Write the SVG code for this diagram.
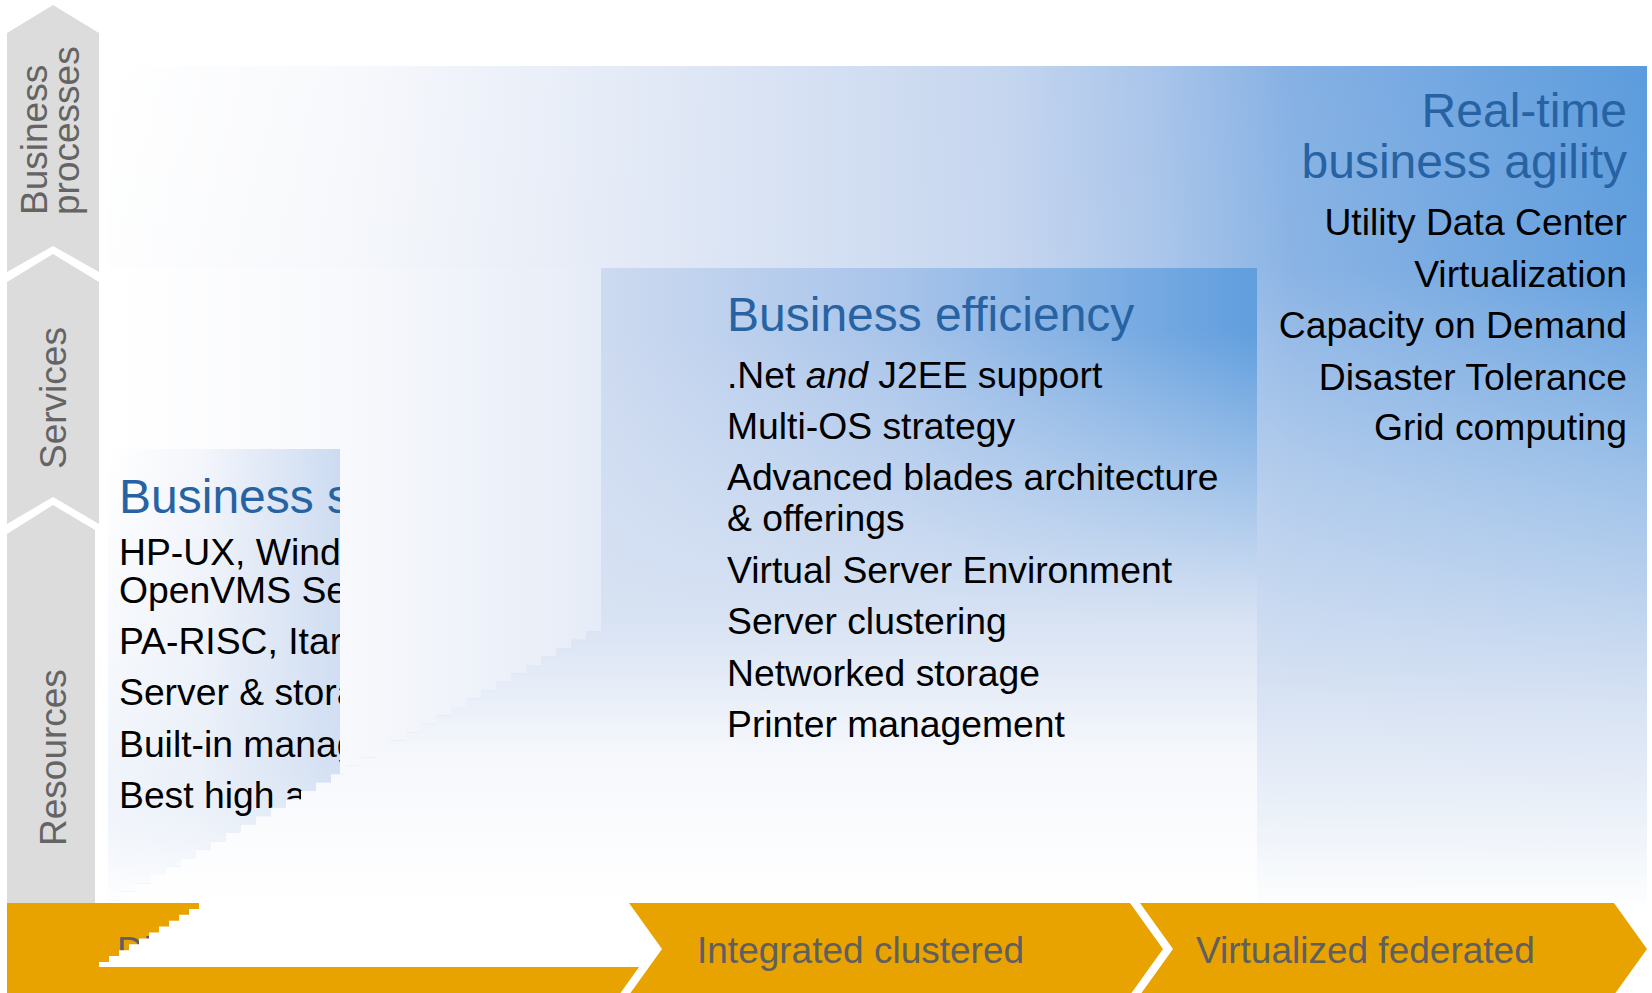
<svg xmlns="http://www.w3.org/2000/svg" width="1652" height="993" viewBox="0 0 1652 993">
<style>
.lbl{font-family:"Liberation Sans",Arial,sans-serif;font-size:37px;fill:#646464}
.chev{font-family:"Liberation Sans",Arial,sans-serif;font-size:37px;fill:#5F5F5F}
.ttl{font-family:"Liberation Sans",Arial,sans-serif;font-size:48px;fill:#2763A3}
.txt{font-family:"Liberation Sans",Arial,sans-serif;font-size:37.3px;fill:#000000}
.seg{fill:#DCDCDC}
.arrow{fill:#E9A300}
</style>
<defs>
<linearGradient id="gA" gradientUnits="userSpaceOnUse" x1="108" y1="0" x2="1647" y2="0">
<stop offset="0" stop-color="#FFFFFF"/>
<stop offset="0.15" stop-color="#F8F9FC"/>
<stop offset="0.32" stop-color="#E6ECF7"/>
<stop offset="0.58" stop-color="#C6D6EF"/>
<stop offset="0.68" stop-color="#A9C5EA"/>
<stop offset="0.77" stop-color="#86B1E4"/>
<stop offset="1" stop-color="#5C9CDD"/>
</linearGradient>
<linearGradient id="fA" gradientUnits="userSpaceOnUse" x1="0" y1="66" x2="0" y2="903">
<stop offset="0" stop-color="#D7E2F3" stop-opacity="0"/>
<stop offset="0.24" stop-color="#D7E2F3" stop-opacity="0.05"/>
<stop offset="0.5" stop-color="#D7E2F3" stop-opacity="0.55"/>
<stop offset="0.76" stop-color="#DCE5F4" stop-opacity="0.96"/>
<stop offset="1" stop-color="#FCFDFE" stop-opacity="1"/>
</linearGradient>
<linearGradient id="gB" gradientUnits="userSpaceOnUse" x1="601" y1="0" x2="1257" y2="0">
<stop offset="0" stop-color="#CDDAF0"/>
<stop offset="0.45" stop-color="#A8C4EA"/>
<stop offset="1" stop-color="#609EDE"/>
</linearGradient>
<linearGradient id="fB" gradientUnits="userSpaceOnUse" x1="0" y1="268" x2="0" y2="903">
<stop offset="0.1" stop-color="#D7E2F3" stop-opacity="0"/>
<stop offset="0.55" stop-color="#D7E2F3" stop-opacity="1"/>
<stop offset="0.77" stop-color="#F6F8FC" stop-opacity="1"/>
<stop offset="1" stop-color="#FFFFFF" stop-opacity="1"/>
</linearGradient>
<linearGradient id="gC" gradientUnits="userSpaceOnUse" x1="108" y1="0" x2="340" y2="0">
<stop offset="0" stop-color="#FFFFFF"/>
<stop offset="0.4" stop-color="#F4F6FB"/>
<stop offset="1" stop-color="#CCDBF1"/>
</linearGradient>
<linearGradient id="fC" gradientUnits="userSpaceOnUse" x1="0" y1="449" x2="0" y2="903">
<stop offset="0" stop-color="#DCE6F5" stop-opacity="0"/>
<stop offset="0.7" stop-color="#DCE6F5" stop-opacity="0.4"/>
<stop offset="1" stop-color="#FFFFFF" stop-opacity="1"/>
</linearGradient>
<clipPath id="clipC"><rect x="100" y="440" width="240" height="470"/></clipPath>
</defs>

<g id="axis-business-processes">
<polygon class="seg" points="7,33 53,5 99,33 99,272 53,246 7,272"/>
<text class="lbl" transform="translate(0,215) rotate(-90)"><tspan x="0" y="47">Business</tspan><tspan x="0" y="79">processes</tspan></text>
</g>
<g id="axis-services">
<polygon class="seg" points="7,282 53,254 99,282 99,524 53,497 7,524"/>
<text class="lbl" transform="translate(66,469) rotate(-90)" x="0" y="0">Services</text>
</g>
<g id="axis-resources">
<polygon class="seg" points="7,534 53,505 95,530 95,903 7,903"/>
<text class="lbl" transform="translate(66,846) rotate(-90)" x="0" y="0">Resources</text>
</g>

<g id="panel-agility">
<rect x="108" y="66" width="1539" height="837" fill="url(#gA)"/>
<rect x="108" y="66" width="1539" height="837" fill="url(#fA)"/>
<text class="ttl" x="1627" y="127" text-anchor="end">Real-time</text>
<text class="ttl" x="1627" y="178" text-anchor="end">business agility</text>
<text class="txt" x="1627" y="235" text-anchor="end">Utility Data Center</text>
<text class="txt" x="1627" y="287" text-anchor="end">Virtualization</text>
<text class="txt" x="1627" y="338" text-anchor="end">Capacity on Demand</text>
<text class="txt" x="1627" y="390" text-anchor="end">Disaster Tolerance</text>
<text class="txt" x="1627" y="440" text-anchor="end">Grid computing</text>
</g>

<g id="panel-stability">
<rect x="108" y="449" width="232" height="454" fill="url(#gC)"/>
<rect x="108" y="449" width="232" height="454" fill="url(#fC)"/>
<g clip-path="url(#clipC)">
<text class="ttl" x="119" y="513">Business s</text>
<text class="txt" x="119" y="565">HP-UX, Wind</text>
<text class="txt" x="119" y="603">OpenVMS Se</text>
<text class="txt" x="119" y="654">PA-RISC, Itar</text>
<text class="txt" x="119" y="705">Server &amp; stora</text>
<text class="txt" x="119" y="757">Built-in manag</text>
<text class="txt" x="119" y="808">Best high a</text>
</g>
</g>

<g id="panel-efficiency">
<polygon points="108,268 601,268 601,903 340,903 340,449 108,449" fill="url(#gA)"/>
<path d="M601,268H1257V903H106V900.2h15v-8.4h15v-8.4h15v-8.4h15v-8.4h15v-8.4 h15v-8.4h15v-8.4h15v-8.4h15v-8.4h15v-8.4 h15v-8.4h15v-8.4h15v-8.4h15v-8.4h15v-8.4 h15v-8.4h15v-8.4h15v-8.4h15v-8.4h15v-8.4 h15v-8.4h15v-8.4h15v-8.4h15v-8.4h15v-8.4 h15v-8.4h15v-8.4h15v-8.4h15v-8.4h15v-8.4 h15v-8.4h15v-8.4h15v-8.4Z" fill="url(#gB)"/>
<path d="M601,268H1257V903H106V900.2h15v-8.4h15v-8.4h15v-8.4h15v-8.4h15v-8.4 h15v-8.4h15v-8.4h15v-8.4h15v-8.4h15v-8.4 h15v-8.4h15v-8.4h15v-8.4h15v-8.4h15v-8.4 h15v-8.4h15v-8.4h15v-8.4h15v-8.4h15v-8.4 h15v-8.4h15v-8.4h15v-8.4h15v-8.4h15v-8.4 h15v-8.4h15v-8.4h15v-8.4h15v-8.4h15v-8.4 h15v-8.4h15v-8.4h15v-8.4Z" fill="url(#fB)"/>
<text class="ttl" x="727" y="331">Business efficiency</text>
<text class="txt" x="727" y="388">.Net <tspan font-style="italic">and</tspan> J2EE support</text>
<text class="txt" x="727" y="439">Multi-OS strategy</text>
<text class="txt" x="727" y="490">Advanced blades architecture</text>
<text class="txt" x="727" y="531">&amp; offerings</text>
<text class="txt" x="727" y="583">Virtual Server Environment</text>
<text class="txt" x="727" y="634">Server clustering</text>
<text class="txt" x="727" y="686">Networked storage</text>
<text class="txt" x="727" y="737">Printer management</text>
</g>

<g id="stage-discrete">
<polygon class="arrow" points="7,903 619,903 652,949 619,995 7,995"/>
<text class="chev" x="117" y="963">Di</text>
<path d="M199,903v5.9h-10v5.9h-10v5.9h-10v5.9h-10v5.9h-10v5.9h-10v5.9h-10v5.9h-10v5.9h-10v5.9h-10V967H649L662,949L629,903Z" fill="#FFFFFF"/>
</g>
<g id="stage-integrated">
<polygon class="arrow" points="629,903 1130,903 1163,949 1130,995 629,995 662,949"/>
<text class="chev" x="697" y="963">Integrated clustered</text>
</g>
<g id="stage-virtualized">
<polygon class="arrow" points="1140,903 1614,903 1647,949 1614,995 1140,995 1173,949"/>
<text class="chev" x="1196" y="963">Virtualized federated</text>
</g>
<g id="connectors"/>
</svg>
